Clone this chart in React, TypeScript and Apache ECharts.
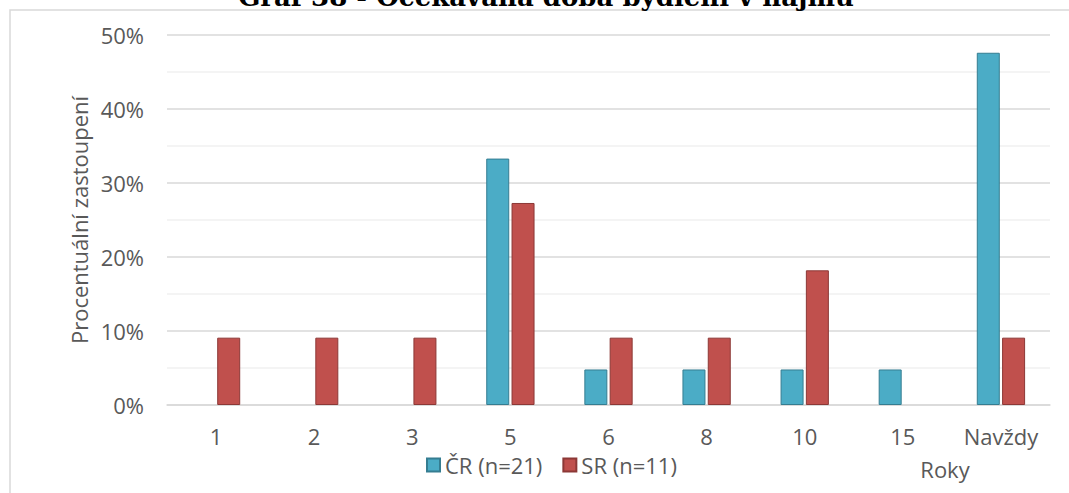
import React, { useEffect, useRef } from "react";
import * as echarts from "echarts";

const categories = ["1", "2", "3", "5", "6", "8", "10", "15", "Navždy"];
const crValues = [0, 0, 0, 33.3, 4.8, 4.8, 4.8, 4.8, 47.6];
const srValues = [9.1, 9.1, 9.1, 27.3, 9.1, 9.1, 18.2, 0, 9.1];
const seriesNames = ["ČR (n=21)", "SR (n=11)"];
const titleText = "Graf 38 - Očekávaná doba bydlení v nájmu";
const yAxisTitle = "Procentuální zastoupení";
const xAxisTitle = "Roky";

const FONT = "'Open Sans', 'Noto Sans', sans-serif";
const FS = 22;

const hideZero = (arr: number[]) => arr.map((v) => (v === 0 ? null : v));

export default function App() {
  const ref = useRef<HTMLDivElement>(null);
  useEffect(() => {
    if (!ref.current) return;
    const chart = echarts.init(ref.current, undefined, { renderer: "svg" });
    chart.setOption({
      animation: false,
      backgroundColor: "#ffffff",
      textStyle: { fontFamily: FONT },
      grid: { left: 167, right: 19, top: 35, bottom: 88 },
      legend: {
        data: seriesNames,
        top: 449,
        left: 421,
        itemWidth: 13,
        itemHeight: 13,
        itemGap: 20,
        icon: "rect",
        textStyle: { color: "#595959", fontSize: FS, fontFamily: FONT },
      },
      xAxis: {
        type: "category",
        data: categories,
        axisLine: { lineStyle: { color: "#D9D9D9", width: 1.5 } },
        axisTick: { show: false },
        axisLabel: { color: "#595959", fontSize: FS, margin: 20, fontFamily: FONT },
      },
      yAxis: {
        type: "value",
        min: 0,
        max: 50,
        interval: 10,
        name: yAxisTitle,
        nameLocation: "middle",
        nameGap: 77,
        nameTextStyle: { color: "#595959", fontSize: FS, fontFamily: FONT },
        axisLabel: { color: "#595959", fontSize: FS, margin: 23, formatter: "{value}%", fontFamily: FONT },
        axisLine: { show: false },
        axisTick: { show: false },
        splitLine: { lineStyle: { color: "#D9D9D9", width: 1.5 } },
        minorTick: { show: false, splitNumber: 2 },
        minorSplitLine: { show: true, lineStyle: { color: "#F0F0F0", width: 1.5 } },
      },
      graphic: [
        {
          type: "rect",
          shape: { x: 10, y: 10, width: 1200, height: 700 },
          style: { fill: "none", stroke: "#D9D9D9", lineWidth: 1.5 },
          silent: true,
        },
        {
          type: "text",
          x: 546,
          y: -3,
          style: {
            text: titleText,
            font: "bold 26px 'DejaVu Serif', serif",
            fill: "#000000",
            textAlign: "center",
            textVerticalAlign: "middle",
          },
        },
        {
          type: "text",
          x: 945,
          y: 469,
          style: {
            text: xAxisTitle,
            font: FS + "px " + FONT,
            fill: "#595959",
            textAlign: "center",
            textVerticalAlign: "middle",
          },
        },
      ],
      series: [
        {
          name: seriesNames[0],
          type: "bar",
          data: hideZero(crValues),
          barWidth: 23,
          barGap: "10%",
          itemStyle: { color: "#4BACC6", borderColor: "#357D91", borderWidth: 1 },
        },
        {
          name: seriesNames[1],
          type: "bar",
          data: hideZero(srValues),
          barWidth: 23,
          barGap: "10%",
          itemStyle: { color: "#C0504D", borderColor: "#8C3836", borderWidth: 1 },
        },
      ],
    });
    return () => chart.dispose();
  }, []);
  return (
    <div
      ref={ref}
      style={{ position: "fixed", left: 0, top: 0, width: 1069, height: 493 }}
    />
  );
}
